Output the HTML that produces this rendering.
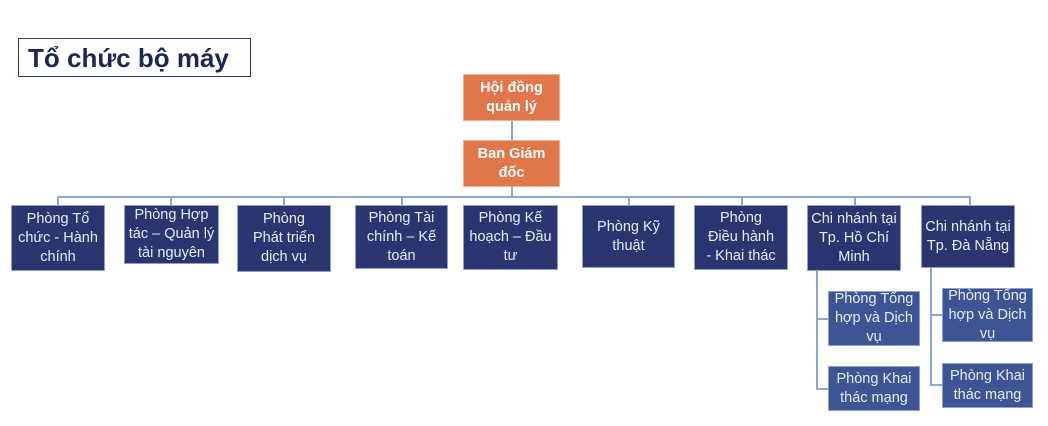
<!DOCTYPE html>
<html><head><meta charset="utf-8"><style>
body{margin:0;width:1048px;height:426px;background:#fff;position:relative;overflow:hidden;font-family:"Liberation Sans","DejaVu Sans",sans-serif}
.b{position:absolute;display:flex;align-items:center;justify-content:center;text-align:center;color:#e8ecf5;font-size:14.5px;line-height:19px;box-sizing:border-box;border:1px solid #8fa0c8}
.n{background:#2c356f}
.s{background:#3e5595}
.o{background:#e0764a;color:#fff;font-weight:bold;border:1px solid #f0b090}
.l{position:absolute;background:#8fa5d0}
</style></head><body>
<div style="position:absolute;left:18px;top:38px;width:233px;height:39px;border:1.5px solid #2c3a6e;font-weight:bold;font-size:26px;color:#1d2752;line-height:39px;padding-left:9px;box-sizing:border-box">Tổ chức bộ máy</div>
<div class="l" style="left:511px;top:121px;width:2px;height:76px"></div>
<div class="l" style="left:57px;top:196px;width:914px;height:2px"></div>
<div class="l" style="left:57px;top:196px;width:2px;height:10px"></div>
<div class="l" style="left:170px;top:196px;width:2px;height:10px"></div>
<div class="l" style="left:283px;top:196px;width:2px;height:10px"></div>
<div class="l" style="left:401px;top:196px;width:2px;height:10px"></div>
<div class="l" style="left:628px;top:196px;width:2px;height:10px"></div>
<div class="l" style="left:741px;top:196px;width:2px;height:10px"></div>
<div class="l" style="left:854px;top:196px;width:2px;height:10px"></div>
<div class="l" style="left:969px;top:196px;width:2px;height:10px"></div>
<div class="l" style="left:816px;top:270px;width:2px;height:120px"></div>
<div class="l" style="left:816px;top:318px;width:12px;height:2px"></div>
<div class="l" style="left:816px;top:388px;width:12px;height:2px"></div>
<div class="l" style="left:930px;top:268px;width:2px;height:118px"></div>
<div class="l" style="left:930px;top:314px;width:12px;height:2px"></div>
<div class="l" style="left:930px;top:384px;width:12px;height:2px"></div>
<div class="b o" style="left:463px;top:74px;width:97px;height:47px">Hội đồng<br>quản lý</div>
<div class="b o" style="left:463px;top:140px;width:97px;height:47px">Ban Giám<br>đốc</div>
<div class="b n" style="left:11px;top:205px;width:94px;height:66px">Phòng Tổ<br>chức - Hành<br>chính</div>
<div class="b n" style="left:124px;top:205px;width:95px;height:59px">Phòng Hợp<br>tác – Quản lý<br>tài nguyên</div>
<div class="b n" style="left:237px;top:205px;width:94px;height:67px">Phòng<br>Phát triển<br>dịch vụ</div>
<div class="b n" style="left:355px;top:205px;width:93px;height:64px">Phòng Tài<br>chính – Kế<br>toán</div>
<div class="b n" style="left:463px;top:205px;width:95px;height:65px">Phòng Kế<br>hoạch – Đầu<br>tư</div>
<div class="b n" style="left:582px;top:205px;width:93px;height:63px">Phòng Kỹ<br>thuật</div>
<div class="b n" style="left:694px;top:205px;width:94px;height:65px">Phòng<br>Điều hành<br>- Khai thác</div>
<div class="b n" style="left:807px;top:205px;width:94px;height:66px">Chi nhánh tại<br>Tp. Hồ Chí<br>Minh</div>
<div class="b n" style="left:921px;top:205px;width:94px;height:63px">Chi nhánh tại<br>Tp. Đà Nẵng</div>
<div class="b s" style="left:828px;top:291px;width:92px;height:55px">Phòng Tổng<br>hợp và Dịch<br>vụ</div>
<div class="b s" style="left:828px;top:366px;width:92px;height:45px">Phòng Khai<br>thác mạng</div>
<div class="b s" style="left:942px;top:288px;width:91px;height:54px">Phòng Tổng<br>hợp và Dịch<br>vụ</div>
<div class="b s" style="left:942px;top:363px;width:91px;height:45px">Phòng Khai<br>thác mạng</div>
</body></html>
